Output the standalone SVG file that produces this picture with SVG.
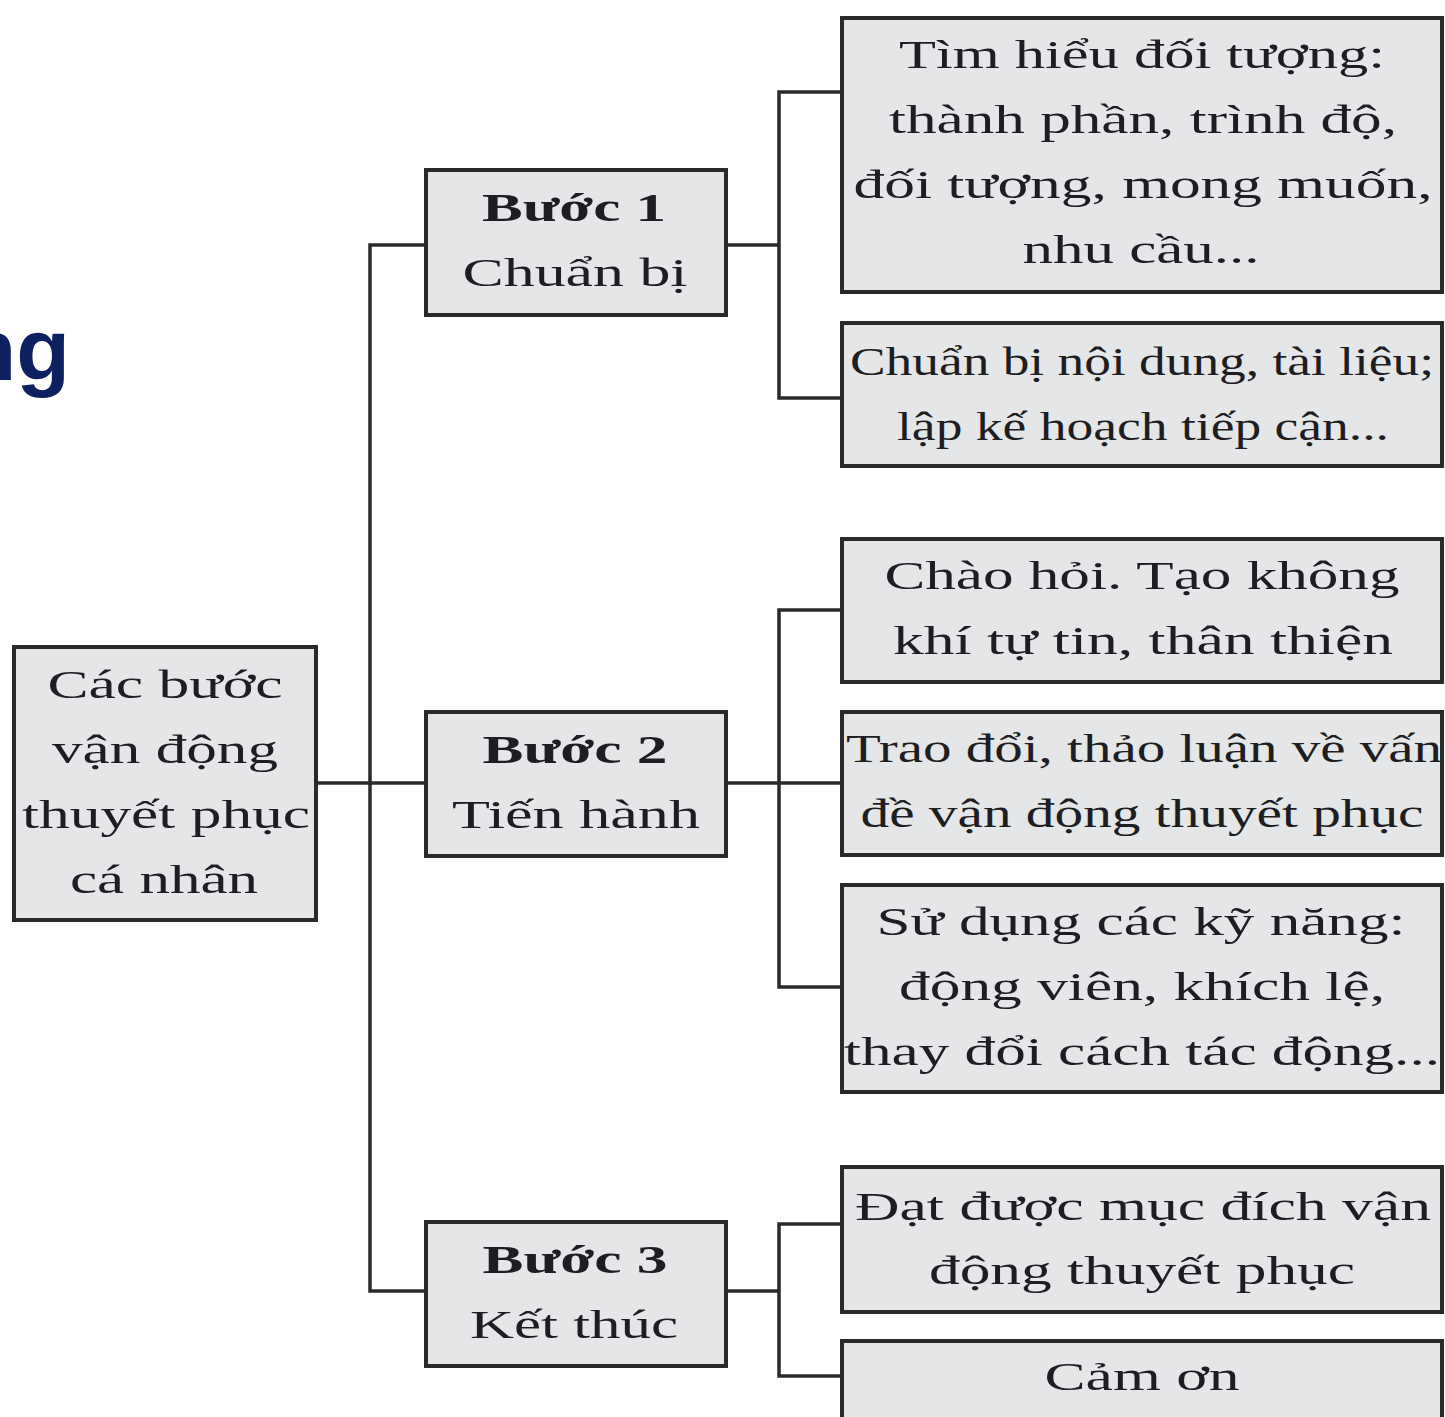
<svg xmlns="http://www.w3.org/2000/svg" width="1445" height="1417" viewBox="0 0 1445 1417">
<style>
.bg{fill:#ffffff}
.box{fill:#e5e6e7;stroke:#2a2a2a;stroke-width:4}
.t{font-family:"Liberation Serif","Times New Roman",serif;font-size:40px;fill:#1e1e22;text-anchor:middle}
.b{font-weight:bold}
.conn{fill:none;stroke:#2a2a2a;stroke-width:3.5}
.title{font-family:"Liberation Sans",Arial,sans-serif;font-weight:bold;font-size:88px;fill:#0d2160;text-anchor:end}
</style>
<rect class="bg" x="0" y="0" width="1445" height="1417"/>
<text class="title" x="70" y="380">ng</text>
<g id="connectors">
<path class="conn" d="M316 783 H426"/>
<path class="conn" d="M426 245 H370 V1291 H426"/>
<path class="conn" d="M726 245 H779"/>
<path class="conn" d="M843 92 H779 V398 H843"/>
<path class="conn" d="M726 783 H843"/>
<path class="conn" d="M843 610 H779 V987 H843"/>
<path class="conn" d="M726 1291 H779"/>
<path class="conn" d="M843 1224 H779 V1376 H843"/>
</g>
<g id="root">
<rect class="box" x="14" y="647" width="302" height="273"/>
<text class="t" x="165" y="698" textLength="235" lengthAdjust="spacingAndGlyphs">Các bước</text>
<text class="t" x="165" y="763" textLength="226" lengthAdjust="spacingAndGlyphs">vận động</text>
<text class="t" x="166" y="828" textLength="288" lengthAdjust="spacingAndGlyphs">thuyết phục</text>
<text class="t" x="164" y="893" textLength="188" lengthAdjust="spacingAndGlyphs">cá nhân</text>
</g>
<g id="step1">
<rect class="box" x="426" y="170" width="300" height="145"/>
<text class="t b" x="574" y="221" textLength="184" lengthAdjust="spacingAndGlyphs">Bước 1</text>
<text class="t" x="575" y="286" textLength="225" lengthAdjust="spacingAndGlyphs">Chuẩn bị</text>
</g>
<g id="step2">
<rect class="box" x="426" y="712" width="300" height="144"/>
<text class="t b" x="575" y="763" textLength="185" lengthAdjust="spacingAndGlyphs">Bước 2</text>
<text class="t" x="576" y="828" textLength="248" lengthAdjust="spacingAndGlyphs">Tiến hành</text>
</g>
<g id="step3">
<rect class="box" x="426" y="1222" width="300" height="144"/>
<text class="t b" x="575" y="1273" textLength="185" lengthAdjust="spacingAndGlyphs">Bước 3</text>
<text class="t" x="574" y="1338" textLength="208" lengthAdjust="spacingAndGlyphs">Kết thúc</text>
</g>
<g id="c1">
<rect class="box" x="842" y="18" width="600" height="274"/>
<text class="t" x="1142" y="68" textLength="486" lengthAdjust="spacingAndGlyphs">Tìm hiểu đối tượng:</text>
<text class="t" x="1143" y="133" textLength="508" lengthAdjust="spacingAndGlyphs">thành phần, trình độ,</text>
<text class="t" x="1143" y="198" textLength="579" lengthAdjust="spacingAndGlyphs">đối tượng, mong muốn,</text>
<text class="t" x="1141" y="263" textLength="237" lengthAdjust="spacingAndGlyphs">nhu cầu...</text>
</g>
<g id="c2">
<rect class="box" x="842" y="323" width="600" height="143"/>
<text class="t" x="1142" y="375" textLength="584" lengthAdjust="spacingAndGlyphs">Chuẩn bị nội dung, tài liệu;</text>
<text class="t" x="1143" y="440" textLength="492" lengthAdjust="spacingAndGlyphs">lập kế hoạch tiếp cận...</text>
</g>
<g id="c3">
<rect class="box" x="842" y="539" width="600" height="143"/>
<text class="t" x="1142" y="589" textLength="515" lengthAdjust="spacingAndGlyphs">Chào hỏi. Tạo không</text>
<text class="t" x="1143" y="654" textLength="500" lengthAdjust="spacingAndGlyphs">khí tự tin, thân thiện</text>
</g>
<g id="c4">
<rect class="box" x="842" y="712" width="600" height="143"/>
<text class="t" x="1144" y="762" textLength="596" lengthAdjust="spacingAndGlyphs">Trao đổi, thảo luận về vấn</text>
<text class="t" x="1142" y="827" textLength="563" lengthAdjust="spacingAndGlyphs">đề vận động thuyết phục</text>
</g>
<g id="c5">
<rect class="box" x="842" y="885" width="600" height="207"/>
<text class="t" x="1141" y="935" textLength="529" lengthAdjust="spacingAndGlyphs">Sử dụng các kỹ năng:</text>
<text class="t" x="1142" y="1000" textLength="486" lengthAdjust="spacingAndGlyphs">động viên, khích lệ,</text>
<text class="t" x="1142" y="1065" textLength="596" lengthAdjust="spacingAndGlyphs">thay đổi cách tác động...</text>
</g>
<g id="c6">
<rect class="box" x="842" y="1167" width="600" height="145"/>
<text class="t" x="1143" y="1220" textLength="576" lengthAdjust="spacingAndGlyphs">Đạt được mục đích vận</text>
<text class="t" x="1142" y="1284" textLength="426" lengthAdjust="spacingAndGlyphs">động thuyết phục</text>
</g>
<g id="c7">
<rect class="box" x="842" y="1341" width="600" height="90"/>
<text class="t" x="1142" y="1390" textLength="195" lengthAdjust="spacingAndGlyphs">Cảm ơn</text>
</g>
</svg>
